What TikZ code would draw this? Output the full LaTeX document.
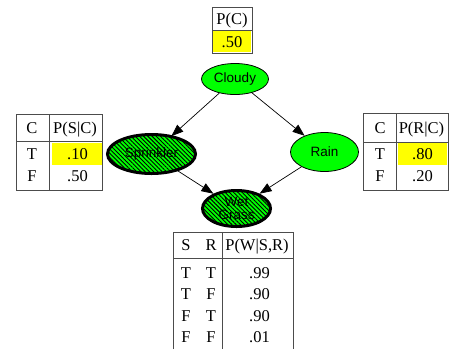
\documentclass[tikz,border=0pt]{standalone}
\usepackage{fontspec}
\setmainfont{Liberation Serif}
\setsansfont{Liberation Sans}
\usetikzlibrary{shapes.geometric,patterns.meta,arrows.meta}
\definecolor{nodegreen}{RGB}{0,255,0}
\definecolor{cellyellow}{RGB}{255,255,0}

\begin{document}
\begin{tikzpicture}[x=1pt,y=-1pt,>={Triangle[length=12pt,width=9pt]},
    var node/.style={ellipse,draw,line width=0.8pt,fill=nodegreen,inner sep=0pt,align=center,font=\sffamily\fontsize{13.5}{13.5}\selectfont},
    obs node/.style={var node,line width=3pt,preaction={fill=nodegreen},pattern={Lines[angle=-45,distance=3pt,line width=0.9pt]}},
    cell/.style={inner sep=0pt,text height=11pt,text depth=0pt,font=\fontsize{16.5}{16.5}\selectfont},
    grid line/.style={draw=black!70,line width=0.9pt},
    hilite/.style={fill=cellyellow}]

    \useasboundingbox (0,0) rectangle (449,349);

    % network
    \node[var node,minimum width=67pt,minimum height=31pt] (cloudy) at (235,79) {Cloudy};
    \node[obs node,minimum width=88pt,minimum height=39pt] (sprinkler) at (151.5,154) {Sprinkler};
    \node[var node,minimum width=68pt,minimum height=39pt] (rain) at (324.5,152) {Rain};
    \node[obs node,minimum width=68pt,minimum height=36pt] (wet) at (236.5,208.5) {Wet\\Grass};

    \path[->,line width=0.7pt]
    (cloudy) edge (sprinkler)
    (cloudy) edge (rain)
    (sprinkler) edge (wet)
    (rain) edge (wet);

    % P(C)
    \fill[hilite] (213,31) rectangle (251,52);
    \draw[grid line] (212,7) rectangle (252,53) (212,30) -- (252,30);
    \node[cell] (pc-head) at (232,18.5) {P(C)};
    \node[cell] (pc-val) at (232,41.5) {.50};

    % P(S|C)
    \fill[hilite] (52,142.5) rectangle (101.5,165);
    \draw[grid line] (16,114) rectangle (102,190) (49,114) -- (49,190) (16,141.5) -- (102,141.5);
    \node[cell] (ps-c) at (32,128) {C};
    \node[cell] (ps-head) at (75,128) {P(S|C)};
    \node[cell] (ps-t) at (32,153.5) {T};
    \node[cell] (ps-tval) at (77.5,153.5) {.10};
    \node[cell] (ps-f) at (32,175.5) {F};
    \node[cell] (ps-fval) at (77.5,175.5) {.50};

    % P(R|C)
    \fill[hilite] (398,142.5) rectangle (447,165);
    \draw[grid line] (363,113) rectangle (448.5,190) (396,113) -- (396,190) (363,142) -- (448.5,142);
    \node[cell] (pr-c) at (380,128) {C};
    \node[cell] (pr-head) at (421.5,128) {P(R|C)};
    \node[cell] (pr-t) at (380,153.5) {T};
    \node[cell] (pr-tval) at (422.5,153.5) {.80};
    \node[cell] (pr-f) at (380,175.5) {F};
    \node[cell] (pr-fval) at (422.5,175.5) {.20};

    % P(W|S,R)
    \draw[grid line] (173,349) -- (173,232.5) -- (293,232.5) -- (293,349)
    (222,232.5) -- (222,349) (173,258) -- (293,258);
    \node[cell] (pw-s) at (186,245) {S};
    \node[cell] (pw-r) at (211,245) {R};
    \node[cell] (pw-head) at (257,245) {P(W|S,R)};
    \foreach \s/\r/\p [count=\i] in {T/T/.99,T/F/.90,F/T/.90,F/F/.01}
    {
        \node[cell] (pw-s\i) at (186,251.5+21.4*\i) {\s};
        \node[cell] (pw-r\i) at (211,251.5+21.4*\i) {\r};
        \node[cell] (pw-p\i) at (259.5,251.5+21.4*\i) {\p};
    }
\end{tikzpicture}
\end{document}
